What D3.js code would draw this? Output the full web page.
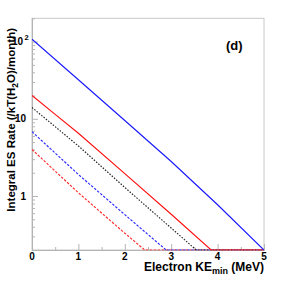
<!DOCTYPE html>
<html>
<head>
    <style>
        body { margin: 0; padding: 0; background: #fff; }
        text { font-family: "Liberation Sans", Arial, sans-serif; font-weight: bold; fill: #000; }
        .frame { fill: none; stroke: #c8c8c8; stroke-width: 1; }
        .axis path { stroke: #b4b4b4; }
        .axis line { stroke: #b4b4b4; }
        .curve { fill: none; stroke-width: 1.15; }
    </style>
    <script src="https://d3js.org/d3.v7.min.js"></script>
</head>
<body>
<div id="chart"></div>
<script>
    // series (energy in MeV, rate per kT(H2O) per month)
    // after a curve reaches the floor it runs along the bottom of the frame
    var blueSolidE = [0, 1, 2, 3, 4, 5];
    var blueSolidR = [107, 32, 9.5, 2.8, 0.77, 0.2];
    var redSolidE = [0, 0.5, 1, 2, 3, 3.86, 5];
    var redSolidR = [20, 11.4, 6.5, 1.95, 0.58, 0.2, 0.2];
    var blackDotE = [0, 1, 2, 3, 3.54, 5];
    var blackDotR = [14, 4.45, 1.29, 0.385, 0.2, 0.2];
    var blueDashE = [0, 1, 2, 2.89, 5];
    var blueDashR = [6.8, 1.9, 0.574, 0.2, 0.2];
    var redDashE = [0, 1, 2, 2.43, 5];
    var redDashR = [4.0, 1.1, 0.33, 0.2, 0.2];

    var xTicks = [0, 1, 2, 3, 4, 5];
    var xMinor = [0.5, 1.5, 2.5, 3.5, 4.5];
    var yMajor = [1, 10, 100];
    var yMinor = [0.2, 0.3, 0.4, 0.5, 0.6, 0.7, 0.8, 0.9, 2, 3, 4, 5, 6, 7, 8, 9, 20, 30, 40, 50, 60, 70, 80, 90, 200];

    var W = 290, H = 295;
    var mLeft = 32, mRight = 264, mTop = 18.3, mBottom = 250;

    var svg = d3.select("#chart").append("svg")
        .attr("width", W)
        .attr("height", H);

    var x = d3.scaleLinear().domain([0, 5]).range([mLeft, mRight]);
    var y = d3.scaleLog().domain([0.2, 200]).range([mBottom, mTop]);

    svg.append("defs").append("clipPath").attr("id", "plotclip")
        .append("rect")
        .attr("x", mLeft).attr("y", mTop)
        .attr("width", mRight - mLeft).attr("height", mBottom - mTop + 0.5);

    // frame
    svg.append("rect").attr("class", "frame")
        .attr("x", mLeft).attr("y", mTop)
        .attr("width", mRight - mLeft).attr("height", mBottom - mTop);

    // x axis ticks (pointing into the plot)
    svg.append("g").attr("class", "axis")
        .attr("transform", "translate(0," + mBottom + ")")
        .call(d3.axisBottom(x).tickValues(xTicks).tickSizeInner(-6).tickSizeOuter(0).tickFormat(""));
    svg.append("g").attr("class", "axis")
        .attr("transform", "translate(0," + mBottom + ")")
        .call(d3.axisBottom(x).tickValues(xMinor).tickSizeInner(-3).tickSizeOuter(0).tickFormat(""));

    svg.selectAll(".xlab").data(xTicks).enter().append("text")
        .attr("class", "xlab")
        .attr("x", function(d) { return x(d); })
        .attr("y", 259.5)
        .attr("text-anchor", "middle")
        .style("font-size", "10px")
        .text(function(d) { return d; });

    // y axis ticks
    svg.append("g").attr("class", "axis")
        .attr("transform", "translate(" + mLeft + ",0)")
        .call(d3.axisLeft(y).tickValues(yMajor).tickSizeInner(-6).tickSizeOuter(0).tickFormat(""));
    svg.append("g").attr("class", "axis")
        .attr("transform", "translate(" + mLeft + ",0)")
        .call(d3.axisLeft(y).tickValues(yMinor).tickSizeInner(-3).tickSizeOuter(0).tickFormat(""));

    svg.selectAll(".ylab").data(yMajor).enter().append("text")
        .attr("class", "ylab")
        .attr("x", function(d) { return d === 100 ? 23 : 26; })
        .attr("y", function(d) { return y(d) + 3.5; })
        .attr("text-anchor", "end")
        .style("font-size", "10px")
        .text(function(d) { return d === 100 ? "10" : d; });
    svg.append("text")
        .attr("x", 24.5).attr("y", y(100) - 1.5)
        .style("font-size", "7.5px")
        .text("2");

    // curves
    var line = d3.line()
        .x(function(d) { return x(d[0]); })
        .y(function(d) { return y(d[1]); });

    var series = [
        { e: redDashE, r: redDashR, color: "#ff2a2a", dash: "2.5,1.5" },
        { e: blueDashE, r: blueDashR, color: "#2a2aff", dash: "2.5,1.5" },
        { e: blackDotE, r: blackDotR, color: "#222", dash: "1.5,1.5" },
        { e: redSolidE, r: redSolidR, color: "#ff1010", dash: null },
        { e: blueSolidE, r: blueSolidR, color: "#1a1aff", dash: null }
    ];

    var g = svg.append("g").attr("clip-path", "url(#plotclip)");
    series.forEach(function(s) {
        var pts = s.e.map(function(e, i) { return [e, s.r[i]]; });
        g.append("path")
            .attr("class", "curve")
            .attr("d", line(pts))
            .attr("stroke", s.color)
            .attr("stroke-dasharray", s.dash);
    });

    // titles
    var xt = svg.append("text")
        .attr("x", mRight).attr("y", 271)
        .attr("text-anchor", "end")
        .style("font-size", "12px");
    xt.append("tspan").text("Electron KE");
    xt.append("tspan").attr("dy", 3).style("font-size", "9px").text("min");
    xt.append("tspan").attr("dy", -3).text(" (MeV)");

    var yt = svg.append("text")
        .attr("transform", "translate(15,28) rotate(-90)")
        .attr("text-anchor", "end")
        .style("font-size", "11.5px");
    yt.append("tspan").text("Integral ES Rate (/kT(H");
    yt.append("tspan").attr("dy", 3).style("font-size", "8.5px").text("2");
    yt.append("tspan").attr("dy", -3).text("O)/month)");

    svg.append("text")
        .attr("x", 226).attr("y", 50)
        .style("font-size", "13px")
        .text("(d)");
</script>
</body>
</html>
